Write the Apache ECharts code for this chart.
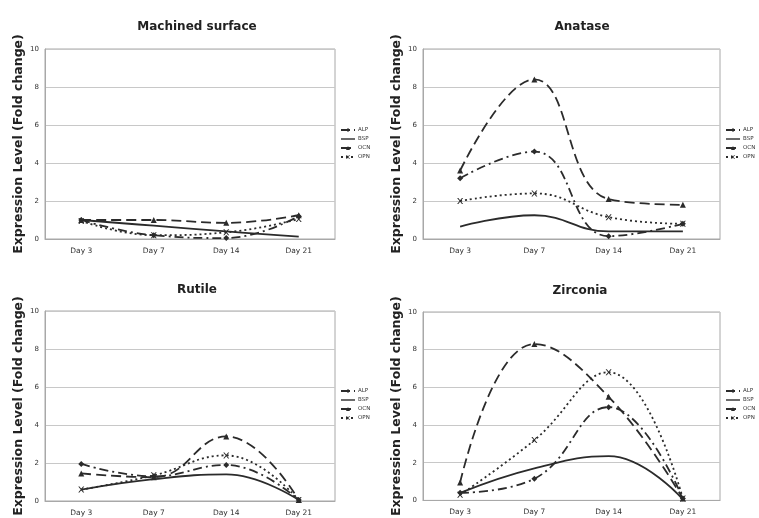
<!DOCTYPE html>
<html>
<head>
<meta charset="utf-8">
<script src="https://cdn.jsdelivr.net/npm/echarts@6/dist/echarts.min.js"></script>
<style>
  html, body { margin: 0; padding: 0; background: #fff; }
  #chart { width: 759px; height: 518px; }
</style>
</head>
<body>
<div id="chart"></div>
<script>
const days = ['Day 3', 'Day 7', 'Day 14', 'Day 21'];
const genes = ['ALP', 'BSP', 'OCN', 'OPN'];
const panelTitles = ['Machined surface', 'Anatase', 'Rutile', 'Zirconia'];

// fold change per gene, one array per panel
const machinedALP = [1.0, 0.2, 0.05, 1.2];
const machinedBSP = [1.0, 0.7, 0.4, 0.12];
const machinedOCN = [1.0, 1.0, 0.85, 1.25];
const machinedOPN = [0.95, 0.2, 0.35, 1.05];

const anataseALP = [3.2, 4.6, 0.15, 0.8];
const anataseBSP = [0.65, 1.25, 0.4, 0.4];
const anataseOCN = [3.6, 8.4, 2.1, 1.8];
const anataseOPN = [2.0, 2.4, 1.15, 0.8];

const rutileALP = [1.95, 1.3, 1.9, 0.05];
const rutileBSP = [0.6, 1.15, 1.4, 0.05];
const rutileOCN = [1.45, 1.25, 3.4, 0.05];
const rutileOPN = [0.6, 1.35, 2.4, 0.05];

const zirconiaALP = [0.4, 1.15, 4.95, 0.1];
const zirconiaBSP = [0.4, 1.7, 2.35, 0.05];
const zirconiaOCN = [0.95, 8.3, 5.5, 0.1];
const zirconiaOPN = [0.3, 3.2, 6.8, 0.1];

const panelData = [
  [machinedALP, machinedBSP, machinedOCN, machinedOPN],
  [anataseALP, anataseBSP, anataseOCN, anataseOPN],
  [rutileALP, rutileBSP, rutileOCN, rutileOPN],
  [zirconiaALP, zirconiaBSP, zirconiaOCN, zirconiaOPN]
];

const font = 'DejaVu Sans';
const ink = '#2b2b2b';
const grids = [
  { left: 45, top: 49, width: 290, height: 190 },
  { left: 423, top: 49, width: 297, height: 190 },
  { left: 45, top: 311, width: 290, height: 190 },
  { left: 423, top: 312, width: 297, height: 190 }
];
const titlePos = [[192, 16], [577, 16], [192, 279], [575, 280]];
const legendPos = [[340, 127], [725, 127], [340, 388], [725, 388]];

const asterisk = 'path://M0,0L2,0L5,3L8,0L10,0L6,4L10,8L8,8L5,5L2,8L0,8L4,4Z';
const styles = {
  ALP: { type: [9, 4, 2, 4], symbol: 'diamond', symbolSize: 6 },
  BSP: { type: 'solid', symbol: 'none', symbolSize: 0 },
  OCN: { type: [10, 5], symbol: 'triangle', symbolSize: 6 },
  OPN: { type: [2, 3], symbol: asterisk, symbolSize: 6 }
};

const series = [];
panelData.forEach((set, p) => {
  set.forEach((vals, g) => {
    const st = styles[genes[g]];
    series.push({
      name: genes[g],
      type: 'line',
      xAxisIndex: p,
      yAxisIndex: p,
      data: vals,
      smooth: 0.45,
      symbol: st.symbol,
      symbolSize: st.symbolSize,
      showSymbol: st.symbol !== 'none',
      itemStyle: { color: ink },
      lineStyle: { color: ink, width: 1.8, type: st.type }
    });
  });
});

const legendItems = genes.map(g => g === 'BSP'
  ? { name: g, icon: 'path://M0,0L14,0L14,1.4L0,1.4Z' }
  : { name: g });

const chart = echarts.init(document.getElementById('chart'));
chart.setOption({
  animation: false,
  backgroundColor: '#fff',
  title: panelTitles.map((t, i) => ({
    text: t, left: titlePos[i][0], top: titlePos[i][1], textAlign: 'center',
    textStyle: { fontFamily: font, fontSize: 12, fontWeight: 'bold', color: '#222' }
  })),
  legend: legendPos.map(pos => ({
    data: legendItems, orient: 'vertical', left: pos[0], top: pos[1],
    itemWidth: 14, itemHeight: 5, itemGap: 3, padding: 0,
    textStyle: { fontFamily: font, fontSize: 5.5, color: '#333', padding: [0, 0, 0, -2] }
  })),
  grid: grids.map(g => Object.assign({ show: true, borderColor: '#a8a8a8', borderWidth: 1 }, g)),
  xAxis: grids.map((g, i) => ({
    type: 'category', gridIndex: i, data: days, boundaryGap: true,
    axisLine: { lineStyle: { color: '#a8a8a8' } },
    axisTick: { show: false },
    axisLabel: { fontFamily: font, fontSize: 7.5, color: '#333', margin: 8 }
  })),
  yAxis: grids.map((g, i) => ({
    type: 'value', gridIndex: i, min: 0, max: 10, interval: 2,
    name: 'Expression Level (Fold change)', nameLocation: 'middle', nameGap: 20,
    nameTextStyle: { fontFamily: font, fontSize: 12.5, fontWeight: 'bold', color: '#222' },
    axisLine: { show: true, lineStyle: { color: '#a8a8a8' } },
    axisTick: { show: false },
    splitLine: { lineStyle: { color: '#c8c8c8' } },
    axisLabel: { fontFamily: font, fontSize: 7, color: '#333', margin: 6 }
  })),
  series: series
});
</script>
</body>
</html>
